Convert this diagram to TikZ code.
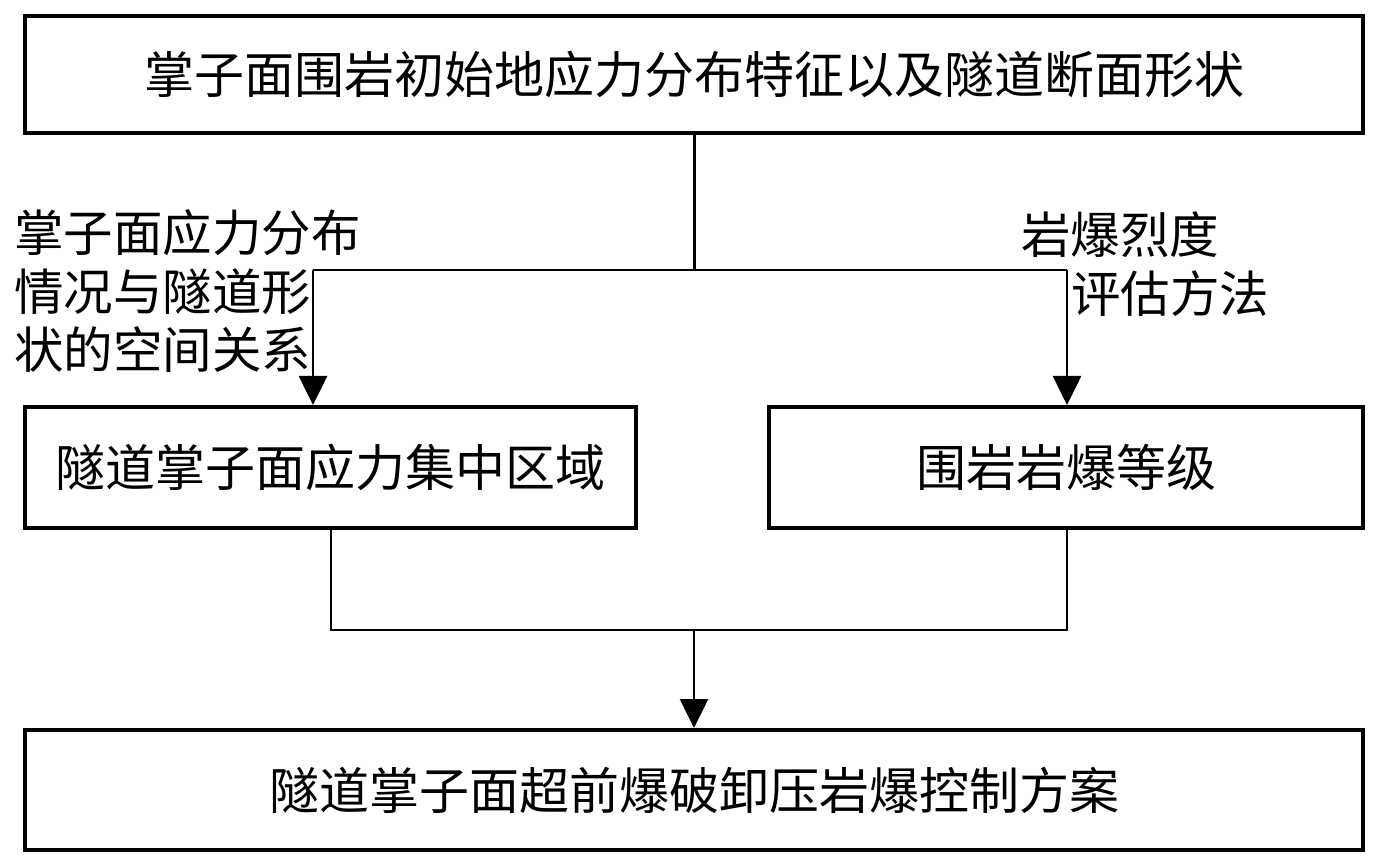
\documentclass[tikz,border=0pt]{standalone}
\usepackage{fontspec}
\setmainfont{Noto Sans CJK SC}
\usetikzlibrary{arrows.meta}
\tikzset{
  box/.style={draw=black, line width=4pt, inner sep=0pt, font=\fontsize{50}{58}\selectfont},
  conn/.style={draw=black, line width=2.6pt},
  arr/.style={conn, -{Triangle[width=28pt,length=29pt]}},
  lbl/.style={inner sep=0pt, anchor=west, font=\fontsize{49.5}{58}\selectfont}
}
\begin{document}
\begin{tikzpicture}[x=1pt,y=-1pt]
\useasboundingbox (0,0) rectangle (1379,866);
\node[box, minimum width=1338pt, minimum height=117pt] (top) at (694,74.5) {掌子面围岩初始地应力分布特征以及隧道断面形状};
\node[box, minimum width=611pt, minimum height=121pt] (left) at (330.5,467.5) {隧道掌子面应力集中区域};
\node[box, minimum width=594pt, minimum height=121pt] (right) at (1066,467.5) {围岩岩爆等级};
\node[box, minimum width=1338pt, minimum height=120pt] (bottom) at (694,790) {隧道掌子面超前爆破卸压岩爆控制方案};

\node[lbl] (l1) at (14,233) {掌子面应力分布};
\node[lbl] (l2) at (14,292) {情况与隧道形};
\node[lbl] (l3) at (14,350) {状的空间关系};
\node[lbl] (r1) at (1021,235) {岩爆烈度};
\node[lbl] (r2) at (1071,294) {评估方法};

\coordinate (j1) at (694,270);
\coordinate (la) at (313,270);
\coordinate (ra) at (1067,270);
\draw[conn, line width=3pt] (top.south -| j1) -- (j1);
\draw[conn] (la) -- (ra);
\draw[arr] (la) -- (la |- left.north);
\draw[arr] (ra) -- (ra |- right.north);

\coordinate (lb) at (331,630);
\coordinate (rb) at (1067,630);
\coordinate (j2) at (694,630);
\draw[conn] (left.south -| lb) -- (lb) -- (rb) -- (right.south -| rb);
\draw[arr] (j2) -- (bottom.north -| j2);
\end{tikzpicture}
\end{document}
